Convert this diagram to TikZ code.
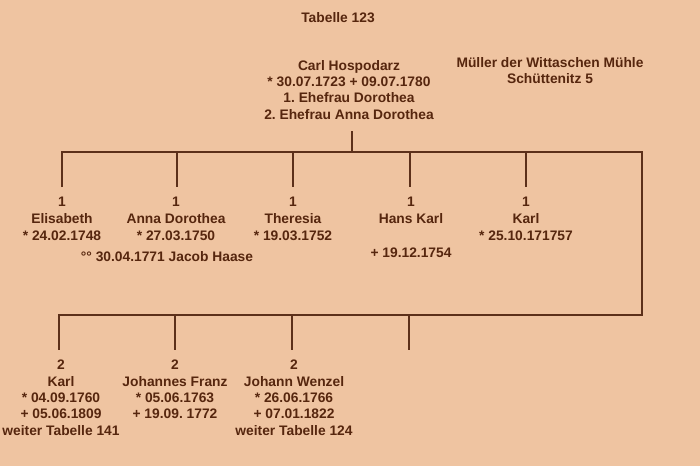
\documentclass[tikz,border=0pt]{standalone}
\usepackage{fontspec}
\setmainfont{Liberation Sans}
\usetikzlibrary{positioning}
\definecolor{peach}{RGB}{239,196,161}
\definecolor{umber}{RGB}{86,38,14}
\definecolor{stemcol}{RGB}{92,48,26}
\frenchspacing

\begin{document}
\begin{tikzpicture}[x=1pt,y=-1pt,
  stem/.style={draw=stemcol,line width=2.8pt,line join=miter}]
\fill[peach] (0,0) rectangle (700,466);
			\begin{scope}[every node/.style={text=umber,align=center,inner sep=0pt,
                font=\bfseries\fontsize{13.8}{16.3}\selectfont}]
    \node (title) at (338,18) {Tabelle 123};
    \node[anchor=north] (carl) at (349,60) {Carl Hospodarz\\* 30.07.1723 + 09.07.1780\\1. Ehefrau Dorothea\\2. Ehefrau Anna Dorothea};
    \node[anchor=north] (mill) at (550,57) {Müller der Wittaschen Mühle\\Schüttenitz 5};
			\end{scope}
			\begin{scope}[every node/.style={text=umber,align=center,inner sep=0pt,anchor=north,
                font=\bfseries\fontsize{13.8}{17}\selectfont}]
    \node (elisabeth) at (62,197) {1\\Elisabeth\\* 24.02.1748};
    \node (annadoro) at (176,197) {1\\Anna Dorothea\\* 27.03.1750};
    \node (theresia) at (293,197) {1\\Theresia\\* 19.03.1752};
    \node (hanskarl) at (411,197) {1\\Hans Karl\\[17pt]+ 19.12.1754};
    \node (karlone) at (526,197) {1\\Karl\\* 25.10.171757};
    \node[anchor=center] (haase) at (167,257) {°° 30.04.1771 Jacob Haase};
			\end{scope}
			\begin{scope}[every node/.style={text=umber,align=center,inner sep=0pt,anchor=north,
                font=\bfseries\fontsize{13.8}{16.3}\selectfont}]
    \node (karltwo) at (61,360) {2\\Karl\\* 04.09.1760\\+ 05.06.1809\\weiter Tabelle 141};
    \node (johfranz) at (175,360) {2\\Johannes Franz\\* 05.06.1763\\+ 19.09. 1772};
    \node (johwenzel) at (294,360) {2\\Johann Wenzel\\* 26.06.1766\\+ 07.01.1822\\weiter Tabelle 124};
			\end{scope}
    % junctions of the family bars
    \coordinate (top) at (352,131);
    \coordinate (fork) at (352,152);
    \foreach \x/\n in {62/a,177/b,293/c,410/d,526/e}{
      \coordinate (up\n) at (\x,152);
      \coordinate (lo\n) at (\x,187);
    }
    \foreach \x/\n in {59/f,175/g,292/h,409/i}{
      \coordinate (up\n) at (\x,315);
      \coordinate (lo\n) at (\x,350);
    }
    \coordinate (ne) at (642,152);
    \coordinate (se) at (642,315);
    \path[stem] (top) -- (fork);
    \path[stem] (loa) -- (upa) -- (ne) -- (se) -- (upf) -- (lof);
    \foreach \n in {b,c,d,e,g,h,i}
      \path[stem] (up\n) -- (lo\n);
\end{tikzpicture}
\end{document}
